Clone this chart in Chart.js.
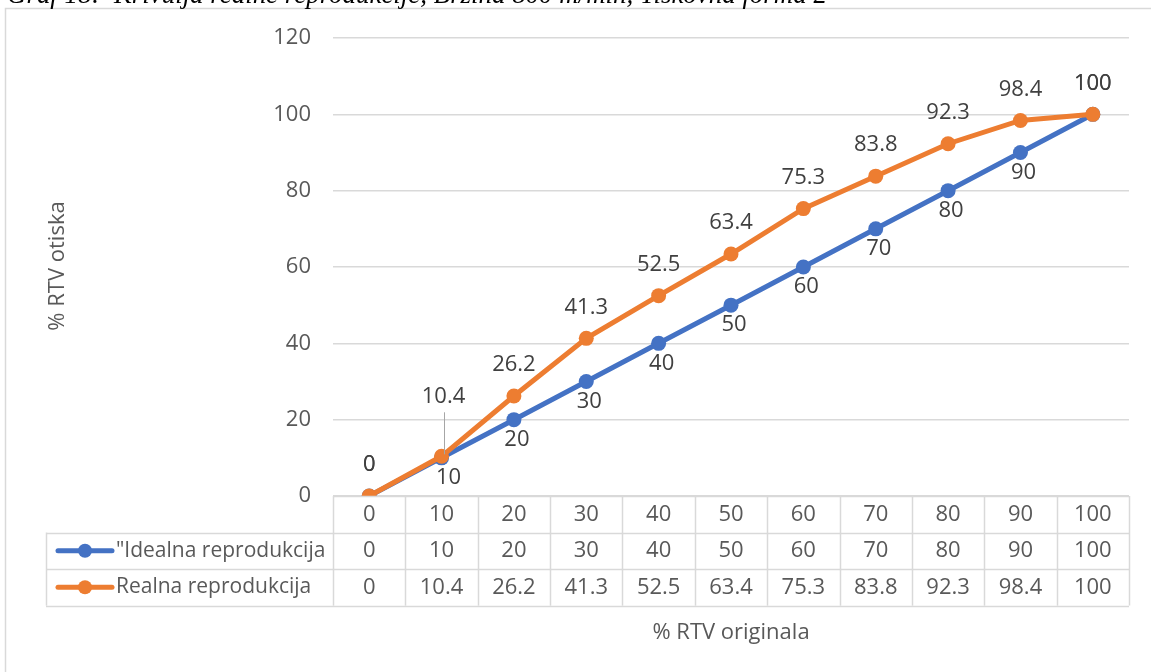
<!DOCTYPE html>
<html>
<head>
<meta charset="utf-8">
<script src="https://cdn.jsdelivr.net/npm/chart.js@4"></script>
<style>
  html, body { margin: 0; padding: 0; background: #fff; }
  canvas { display: block; }
</style>
</head>
<body>
<canvas id="graf" width="1151" height="672"></canvas>
<script>
// values for the tone reproduction curve
const categories = ['0', '10', '20', '30', '40', '50', '60', '70', '80', '90', '100'];
const idealValues = [0, 10, 20, 30, 40, 50, 60, 70, 80, 90, 100];
const realValues = [0, 10.4, 26.2, 41.3, 52.5, 63.4, 75.3, 83.8, 92.3, 98.4, 100];
const seriesNames = ['"Idealna reprodukcija', 'Realna reprodukcija'];
const yTickValues = [0, 20, 40, 60, 80, 100, 120];

const titleText = 'Graf 18:  Krivulja realne reprodukcije, Brzina 800 m/min, Tiskovna forma 2';
const xTitle = '% RTV originala';
const yTitle = '% RTV otiska';

const BLUE = '#4472C4';
const ORANGE = '#ED7D31';
const GRID = '#d9d9d9';
const FONT = '"Open Sans", sans-serif';
const FS = 22;

// frame, caption and axis titles
const framePlugin = {
  id: 'frame',
  beforeDraw(chart) {
    const ctx = chart.ctx;
    ctx.save();
    ctx.fillStyle = '#fff';
    ctx.fillRect(0, 0, chart.width, chart.height);
    ctx.strokeStyle = GRID;
    ctx.lineWidth = 1.5;
    ctx.strokeRect(5.5, 8.5, 1400, 900);

    // caption sits above the frame, mostly cut off
    ctx.fillStyle = '#000';
    ctx.font = 'italic 24px "Liberation Serif", serif';
    const w = ctx.measureText(titleText).width;
    const size = 24 * 820 / w;
    ctx.font = 'italic ' + size.toFixed(2) + 'px "Liberation Serif", serif';
    ctx.textBaseline = 'alphabetic';
    ctx.fillText(titleText, 7, 3);
    ctx.restore();
  },
  afterDraw(chart) {
    const {ctx, chartArea: a} = chart;
    ctx.save();
    ctx.fillStyle = '#595959';
    ctx.font = FS + 'px ' + FONT;
    ctx.textAlign = 'center';
    ctx.textBaseline = 'middle';
    ctx.fillText(xTitle, (a.left + a.right) / 2, 633);
    ctx.translate(58, 266);
    ctx.rotate(-Math.PI / 2);
    ctx.fillText(yTitle, 0, 0);
    ctx.restore();
  }
};

// data table under the plot, one column per category
const tablePlugin = {
  id: 'dataTable',
  afterDraw(chart) {
    const {ctx, chartArea: a, scales: {x}} = chart;
    const n = categories.length;
    const colW = (a.right - a.left) / n;
    const rowH = 36.5;
    const top = a.bottom;
    const legendLeft = 46;
    const px = v => Math.round(v) + 0.5;

    ctx.save();
    ctx.strokeStyle = GRID;
    ctx.lineWidth = 1.5;
    ctx.beginPath();
    ctx.moveTo(a.left, px(top));
    ctx.lineTo(a.right, px(top));
    for (let r = 1; r <= 3; r++) {
      ctx.moveTo(legendLeft, px(top + r * rowH));
      ctx.lineTo(a.right, px(top + r * rowH));
    }
    for (let i = 0; i <= n; i++) {
      const xx = px(a.left + i * colW);
      ctx.moveTo(xx, top);
      ctx.lineTo(xx, top + 3 * rowH);
    }
    ctx.moveTo(px(legendLeft), top + rowH);
    ctx.lineTo(px(legendLeft), top + 3 * rowH);
    ctx.stroke();

    ctx.fillStyle = '#595959';
    ctx.font = FS + 'px ' + FONT;
    ctx.textAlign = 'center';
    ctx.textBaseline = 'middle';
    const rows = [categories, idealValues, realValues];
    rows.forEach((row, r) => {
      const cy = top + r * rowH + rowH / 2;
      row.forEach((v, i) => {
        ctx.fillText(String(v), x.getPixelForValue(i), cy);
      });
    });

    // legend keys in the first column
    const colors = [BLUE, ORANGE];
    ctx.font = '21px ' + FONT;
    seriesNames.forEach((name, k) => {
      const cy = top + (k + 1) * rowH + rowH / 2;
      ctx.strokeStyle = colors[k];
      ctx.lineWidth = 5;
      ctx.lineCap = 'round';
      ctx.beginPath();
      ctx.moveTo(58, cy);
      ctx.lineTo(112, cy);
      ctx.stroke();
      ctx.fillStyle = colors[k];
      ctx.beginPath();
      ctx.arc(85, cy, 7, 0, Math.PI * 2);
      ctx.fill();
      ctx.fillStyle = '#595959';
      ctx.textAlign = 'left';
      ctx.fillText(name, 116, cy);
    });
    ctx.restore();
  }
};

// value labels next to the points
const labelPlugin = {
  id: 'pointLabels',
  afterDatasetsDraw(chart) {
    const ctx = chart.ctx;
    ctx.save();
    ctx.font = FS + 'px ' + FONT;
    ctx.fillStyle = '#404040';
    ctx.textAlign = 'center';
    ctx.textBaseline = 'middle';

    const ideal = chart.getDatasetMeta(0).data;
    ideal.forEach((pt, i) => {
      const last = i === ideal.length - 1;
      if (i === 0 || last) {
        ctx.fillText(String(idealValues[i]), pt.x, pt.y - 31);
      } else {
        const dx = i === 1 ? 7 : 3;
        ctx.fillText(String(idealValues[i]), pt.x + dx, pt.y + 20);
      }
    });

    const real = chart.getDatasetMeta(1).data;
    real.forEach((pt, i) => {
      if (i === 1) {
        // label pushed up with a leader line
        ctx.fillText(String(realValues[i]), pt.x + 2, pt.y - 60);
        ctx.strokeStyle = '#a6a6a6';
        ctx.lineWidth = 1;
        ctx.beginPath();
        ctx.moveTo(Math.round(pt.x + 2) + 0.5, pt.y - 44);
        ctx.lineTo(Math.round(pt.x + 2) + 0.5, pt.y - 2);
        ctx.stroke();
      } else {
        ctx.fillText(String(realValues[i]), pt.x, pt.y - 31);
      }
    });
    ctx.restore();
  }
};

const ctx = document.getElementById('graf').getContext('2d');
const graf = new Chart(ctx, {
  type: 'line',
  data: {
    labels: categories,
    datasets: [{
      label: seriesNames[0],
      data: idealValues,
      borderColor: BLUE,
      backgroundColor: BLUE,
      borderWidth: 5,
      pointRadius: 7.5,
      pointBorderWidth: 0,
      pointBackgroundColor: BLUE,
      tension: 0,
      order: 1
    }, {
      label: seriesNames[1],
      data: realValues,
      borderColor: ORANGE,
      backgroundColor: ORANGE,
      borderWidth: 5,
      pointRadius: 7.5,
      pointBorderWidth: 0,
      pointBackgroundColor: ORANGE,
      tension: 0,
      order: 0
    }]
  },
  options: {
    responsive: false,
    animation: false,
    devicePixelRatio: 1,
    layout: { padding: { top: 38, right: 22, left: 0, bottom: 0 } },
    scales: {
      x: {
        offset: true,
        grid: { display: false },
        border: { display: false },
        ticks: { display: false },
        afterFit: s => { s.height = 176; }
      },
      y: {
        min: 0,
        max: 120,
        afterBuildTicks: s => { s.ticks = yTickValues.map(v => ({ value: v })); },
        grid: { color: GRID, lineWidth: 1.5, drawTicks: false },
        border: { display: false },
        ticks: {
          color: '#595959',
          font: { family: FONT, size: FS },
          padding: 22
        },
        afterFit: s => { s.width = 333; }
      }
    },
    plugins: {
      legend: { display: false },
      tooltip: { enabled: false }
    }
  },
  plugins: [framePlugin, tablePlugin, labelPlugin]
});
</script>
</body>
</html>
